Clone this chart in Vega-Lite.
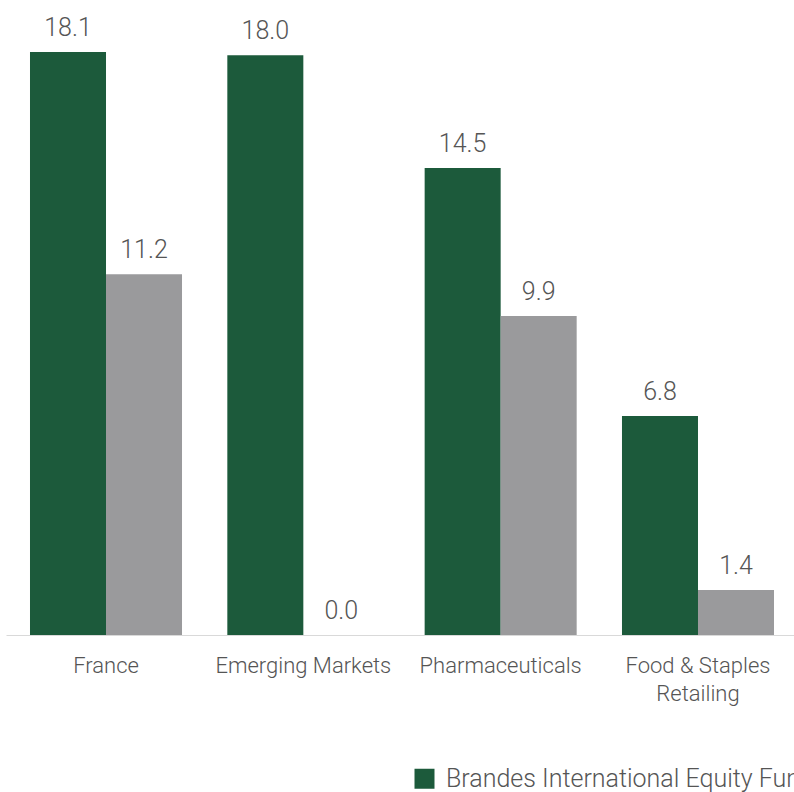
{
  "$schema": "https://vega.github.io/schema/vega-lite/v6.json",
  "width": 792,
  "height": 583,
  "autosize": {"type": "none"},
  "padding": {"left": 6, "top": 52, "right": 0, "bottom": 157},
  "background": "white",
  "config": {"view": {"stroke": null}, "font": "Roboto"},
  "data": {
    "values": [
      {"category": "France", "series": "Brandes International Equity Fund", "value": 18.1},
      {"category": "France", "series": "MSCI EAFE Index", "value": 11.2},
      {"category": "Emerging Markets", "series": "Brandes International Equity Fund", "value": 18.0},
      {"category": "Emerging Markets", "series": "MSCI EAFE Index", "value": 0.0},
      {"category": "Pharmaceuticals", "series": "Brandes International Equity Fund", "value": 14.5},
      {"category": "Pharmaceuticals", "series": "MSCI EAFE Index", "value": 9.9},
      {"category": "Food & Staples Retailing", "series": "Brandes International Equity Fund", "value": 6.8},
      {"category": "Food & Staples Retailing", "series": "MSCI EAFE Index", "value": 1.4}
    ]
  },
  "encoding": {
    "x": {
      "field": "category",
      "type": "nominal",
      "sort": ["France", "Emerging Markets", "Pharmaceuticals", "Food & Staples Retailing"],
      "scale": {"paddingInner": 0.2296, "paddingOuter": 0.1216},
      "axis": {
        "title": null,
        "labelAngle": 0,
        "domainColor": "#d9d9d9",
        "domainWidth": 1,
        "ticks": false,
        "labelFontSize": 22,
        "labelFontWeight": 300,
        "labelColor": "#555555",
        "labelPadding": 20,
        "labelLineHeight": 28,
        "labelExpr": "datum.label == 'Food & Staples Retailing' ? ['Food & Staples', 'Retailing'] : datum.label"
      }
    },
    "xOffset": {"field": "series", "type": "nominal", "sort": ["Brandes International Equity Fund", "MSCI EAFE Index"]},
    "y": {"field": "value", "type": "quantitative", "scale": {"domain": [0, 18.1], "nice": false, "zero": true}, "axis": null}
  },
  "layer": [
    {
      "mark": {"type": "bar"},
      "encoding": {
        "color": {
          "field": "series",
          "type": "nominal",
          "sort": ["Brandes International Equity Fund", "MSCI EAFE Index"],
          "scale": {"domain": ["Brandes International Equity Fund", "MSCI EAFE Index"], "range": ["#1c5a3b", "#9a9a9c"]},
          "legend": {
            "orient": "none",
            "legendX": 406,
            "legendY": 714,
            "direction": "horizontal",
            "title": null,
            "symbolType": "square",
            "symbolSize": 400,
            "symbolStrokeWidth": 0,
            "labelFontSize": 25,
            "labelFontWeight": 300,
            "labelColor": "#555555",
            "labelOffset": 9,
            "labelLimit": 0,
            "columnPadding": 30,
            "padding": 0
          }
        }
      }
    },
    {
      "mark": {"type": "text", "baseline": "alphabetic", "dy": -16, "fontSize": 25, "fontWeight": 300, "color": "#555555"},
      "encoding": {"text": {"field": "value", "type": "quantitative", "format": ".1f"}}
    }
  ]
}
